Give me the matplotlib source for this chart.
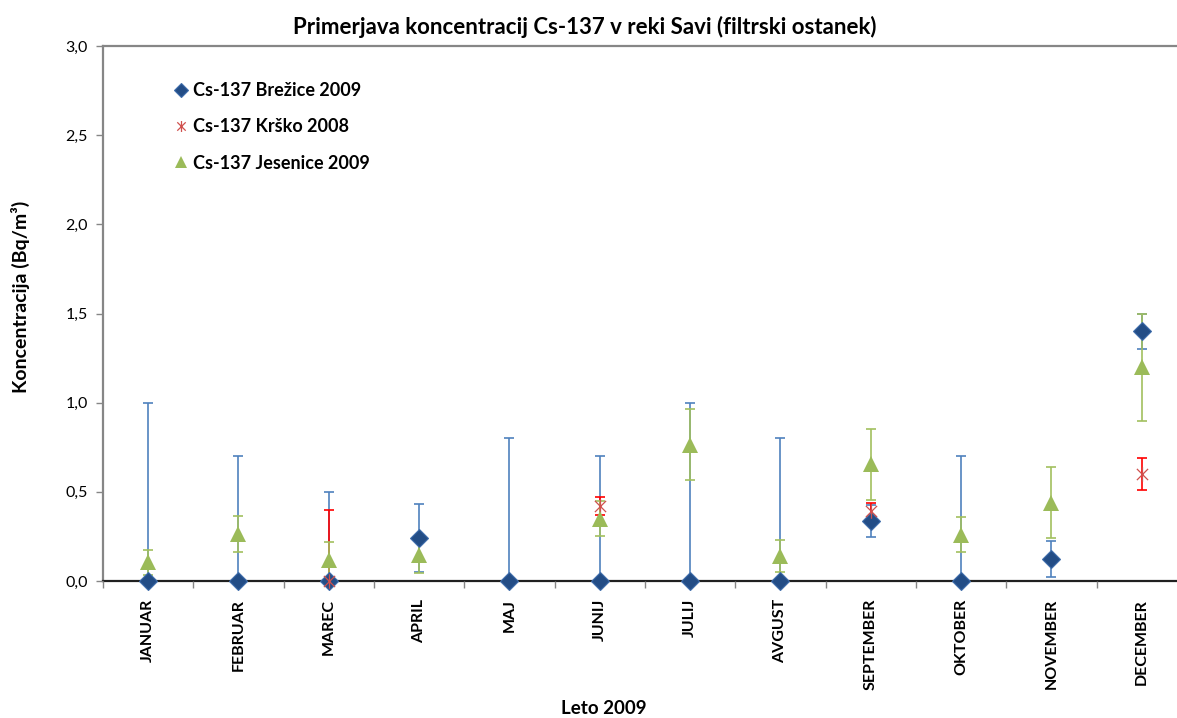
import numpy as np
import matplotlib
matplotlib.use('Agg')
import matplotlib.pyplot as plt
from matplotlib.path import Path
from matplotlib.ticker import FixedLocator, FuncFormatter

# podatki odčitani s slike
months = ['JANUAR', 'FEBRUAR', 'MAREC', 'APRIL', 'MAJ', 'JUNIJ', 'JULIJ',
          'AVGUST', 'SEPTEMBER', 'OKTOBER', 'NOVEMBER', 'DECEMBER']
nan = np.nan
brezice = [0, 0, 0, 0.24, 0, 0, 0, 0, 0.335, 0, 0.125, 1.4]
brezice_err = [1.0, 0.7, 0.5, 0.19, 0.8, 0.7, 1.0, 0.8, 0.09, 0.7, 0.1, 0.1]
krsko = [nan, nan, 0.0, nan, nan, 0.42, nan, nan, 0.39, nan, nan, 0.6]
krsko_err = [nan, nan, 0.4, nan, nan, 0.05, nan, nan, 0.05, nan, nan, 0.09]
jesenice = [0.105, 0.265, 0.12, 0.145, nan, 0.35, 0.765, 0.14, 0.655, 0.26, 0.44, 1.2]
jesenice_err = [0.07, 0.1, 0.1, 0.1, nan, 0.1, 0.2, 0.09, 0.2, 0.1, 0.2, 0.3]

labels = ['Cs-137 Brežice 2009', 'Cs-137 Krško 2008', 'Cs-137 Jesenice 2009']

plt.rcParams['font.family'] = ['Lato', 'DejaVu Sans']

x = np.arange(len(months))

# zvezdica kot v Excelu (x + navpična črta)
star = Path([(-1, -1), (1, 1), (-1, 1), (1, -1), (0, -1.3), (0, 1.3)],
            [Path.MOVETO, Path.LINETO, Path.MOVETO, Path.LINETO, Path.MOVETO, Path.LINETO])

fig = plt.figure(figsize=(11.77, 7.18), dpi=100)
ax = fig.add_axes([103 / 1177, 137 / 718, 1084 / 1177, 535 / 718])

# error bars (behind markers)
ax.errorbar(x, brezice, yerr=brezice_err, fmt='none', ecolor='#4F81BD',
            elinewidth=1.2, capsize=3.5, capthick=1.2, zorder=2)
ax.errorbar(x, krsko, yerr=krsko_err, fmt='none', ecolor='#FF0000',
            elinewidth=1.2, capsize=3.5, capthick=1.2, zorder=2)
ax.errorbar(x, jesenice, yerr=jesenice_err, fmt='none', ecolor='#A2C05F',
            elinewidth=1.2, capsize=3.5, capthick=1.2, zorder=2)

ax.plot(x, brezice, linestyle='none', marker='D', markersize=9.5,
        markerfacecolor='#234D86', markeredgecolor='#3D6CAB', markeredgewidth=0.8,
        label=labels[0], zorder=3, clip_on=False)
ax.plot(x, krsko, linestyle='none', marker=star, markersize=10.5,
        markeredgecolor='#D0504D', markeredgewidth=0.9, label=labels[1], zorder=4,
        clip_on=False)
ax.plot(x, jesenice, linestyle='none', marker='^', markersize=11,
        color='#9BBB59', markeredgewidth=0, label=labels[2], zorder=5, clip_on=False)

ax.set_xlim(-0.5, 11.5)
ax.set_ylim(0, 3.0)
ax.set_yticks(np.arange(0, 3.01, 0.5))
ax.yaxis.set_major_formatter(FuncFormatter(lambda v, p: f'{v:.1f}'.replace('.', ',')))
ax.set_xticks(x)
ax.set_xticklabels(months, rotation=90, fontweight='bold', fontsize=11.5, va='top')
ax.xaxis.set_minor_locator(FixedLocator(np.arange(-0.5, 12, 1)))
ax.tick_params(axis='x', which='major', length=0, pad=13)
ax.tick_params(axis='x', which='minor', length=5, width=1, color='#868686', direction='out')
ax.tick_params(axis='y', length=5, width=1, color='#868686', labelsize=11.5, pad=6)

for s in ['left', 'top']:
    ax.spines[s].set_color('#868686')
    ax.spines[s].set_linewidth(1.6)
ax.spines['bottom'].set_color('#202020')
ax.spines['bottom'].set_linewidth(1.6)
ax.spines['right'].set_visible(False)
for sp in ax.spines.values():
    sp.set_zorder(1)

fig.text(585 / 1177, 1 - 27 / 718, 'Primerjava koncentracij Cs-137 v reki Savi (filtrski ostanek)',
         ha='center', va='center', fontsize=16, fontweight='bold')
fig.text(20 / 1177, 1 - 297 / 718, 'Koncentracija (Bq/m³)', rotation=90,
         ha='center', va='center', fontsize=14, fontweight='bold')
fig.text(604 / 1177, 1 - 708 / 718, 'Leto 2009', ha='center', va='center',
         fontsize=13.5, fontweight='bold')

leg = ax.legend(loc='upper left', bbox_to_anchor=(0.052, 0.963), frameon=False,
                prop={'weight': 'bold', 'size': 13}, handlelength=0.6,
                handletextpad=0.35, labelspacing=1.07, numpoints=1, markerscale=0.75)

fig.savefig('out.png', dpi=100)
